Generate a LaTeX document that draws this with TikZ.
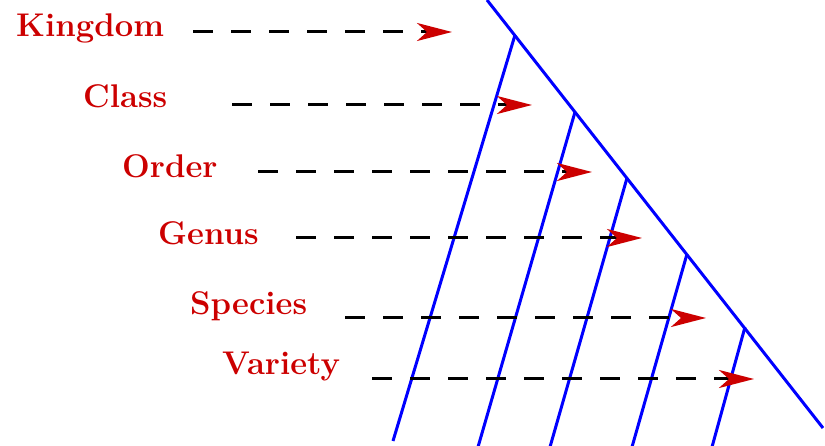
\documentclass[tikz,border=0pt]{standalone}
\usepackage{xcolor}
\usepackage{tikz}
\usetikzlibrary{arrows.meta}
\definecolor{TaxRed}{RGB}{204,0,0}
\definecolor{TaxBlue}{RGB}{0,0,255}

\begin{document}
\begin{tikzpicture}[x=1pt, y=-1pt,
            rank/.style={anchor=base west, inner sep=0pt, text=TaxRed,
                         font=\fontsize{32.8}{38}\selectfont\bfseries},
            pointer/.style={line width=3pt, dash pattern=on 20pt off 18pt,
                            -{Stealth[length=35pt, width=18pt, inset=10pt, TaxRed]}},
            cut/.style={TaxBlue, line width=3pt}
          ]
          \useasboundingbox (0,0) rectangle (825,446);

          % Rank labels
          \node[rank] (kingdom) at (16, 37)  {Kingdom};
          \node[rank] (class)   at (83, 108) {Class};
          \node[rank] (order)   at (122,178) {Order};
          \node[rank] (genus)   at (158,245) {Genus};
          \node[rank] (species) at (190,315) {Species};
          \node[rank] (variety) at (222,375) {Variety};

          % Arrow ends
          \coordinate (kingdomA) at (193,32);  \coordinate (kingdomB) at (452,32);
          \coordinate (classA)   at (232,105); \coordinate (classB)   at (532,105);
          \coordinate (orderA)   at (258,172); \coordinate (orderB)   at (592,172);
          \coordinate (genusA)   at (296,238); \coordinate (genusB)   at (642,238);
          \coordinate (speciesA) at (345,318); \coordinate (speciesB) at (706,318);
          \coordinate (varietyA) at (372,379); \coordinate (varietyB) at (754,379);

          % Diagonal edge and the cuts
          \draw[cut] (487,0) -- (823,428);
          \draw[cut] (515,35)  -- (393,441);
          \draw[cut] (575,112) -- (478,447);
          \draw[cut] (627,178) -- (550,447);
          \draw[cut] (687,254) -- (632,447);
          \draw[cut] (745,327) -- (712,447);

          % Dashed pointers
          \draw[pointer] (kingdomA) -- (kingdomB);
          \draw[pointer] (classA)   -- (classB);
          \draw[pointer] (orderA)   -- (orderB);
          \draw[pointer] (genusA)   -- (genusB);
          \draw[pointer] (speciesA) -- (speciesB);
          \draw[pointer] (varietyA) -- (varietyB);
        \end{tikzpicture}
\end{document}
